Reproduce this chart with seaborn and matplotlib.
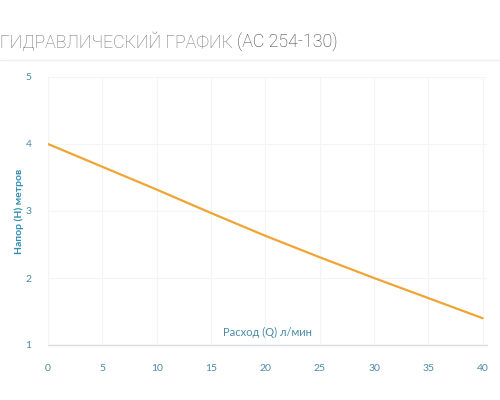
import numpy as np
import pandas as pd
import matplotlib
matplotlib.use("Agg")
import matplotlib.pyplot as plt
import seaborn as sns

flow = [0, 5, 10, 15, 20, 25, 30, 35, 40]
head = [4.0, 3.66, 3.32, 2.97, 2.63, 2.31, 2.0, 1.7, 1.4]
x_ticks = [0, 5, 10, 15, 20, 25, 30, 35, 40]
y_ticks = [1, 2, 3, 4, 5]

title_main = "ГИДРАВЛИЧЕСКИЙ ГРАФИК "
title_model = "(АС 254-130)"
xlabel = "Расход (Q) л/мин"
ylabel = "Напор (Н) метров"

sns.set_theme(style="white")
plt.rcParams["font.family"] = ["Lato", "DejaVu Sans"]

tick_color = "#4a8aa6"
df = pd.DataFrame({"Q": flow, "H": head})

fig = plt.figure(figsize=(5, 4), dpi=100)
ax = fig.add_axes([0.096, 0.1375, 0.878, 0.67])

sns.lineplot(data=df, x="Q", y="H", ax=ax, color="#eea534", linewidth=1.6)

ax.set_xlim(0, 40.4)
ax.set_ylim(1, 5)
ax.set_xticks(x_ticks)
ax.set_yticks(y_ticks)
ax.grid(True, color="#f4f4f4", linewidth=0.8)
for s in ["top", "right", "left"]:
    ax.spines[s].set_visible(False)
ax.spines["bottom"].set_color("#d6dde4")
ax.spines["bottom"].set_linewidth(1.0)
ax.tick_params(axis="x", colors=tick_color, labelsize=7.5, length=6,
               width=0.8, pad=8, direction="out")
ax.tick_params(axis="x", color="#d6dde4")
ax.tick_params(axis="y", colors=tick_color, labelsize=7.5, length=0, pad=12)

ax.set_xlabel(xlabel, color=tick_color, fontsize=8)
ax.xaxis.set_label_coords(0.5, 0.025)
ax.xaxis.label.set_va("bottom")
ax.set_ylabel(ylabel, color="#2f8db0", fontsize=7.5, fontweight="bold")
ax.yaxis.set_label_coords(-0.055, 0.5)

t1 = fig.text(0.0, 0.895, title_main, fontsize=12.8, color="#707070",
              family=["Roboto", "DejaVu Sans"], fontweight="light",
              va="center", ha="left")
fig.canvas.draw()
bb = t1.get_window_extent()
fig.text(bb.x1 / fig.bbox.width, 0.895, title_model, fontsize=12.8,
         color="#3c3c3c", family=["Roboto", "DejaVu Sans"],
         fontweight="light", va="center", ha="left")
fig.add_artist(plt.Line2D([0, 1], [0.85, 0.85], color="#eeeeee", linewidth=1.0))

fig.savefig("out.png", dpi=100)
